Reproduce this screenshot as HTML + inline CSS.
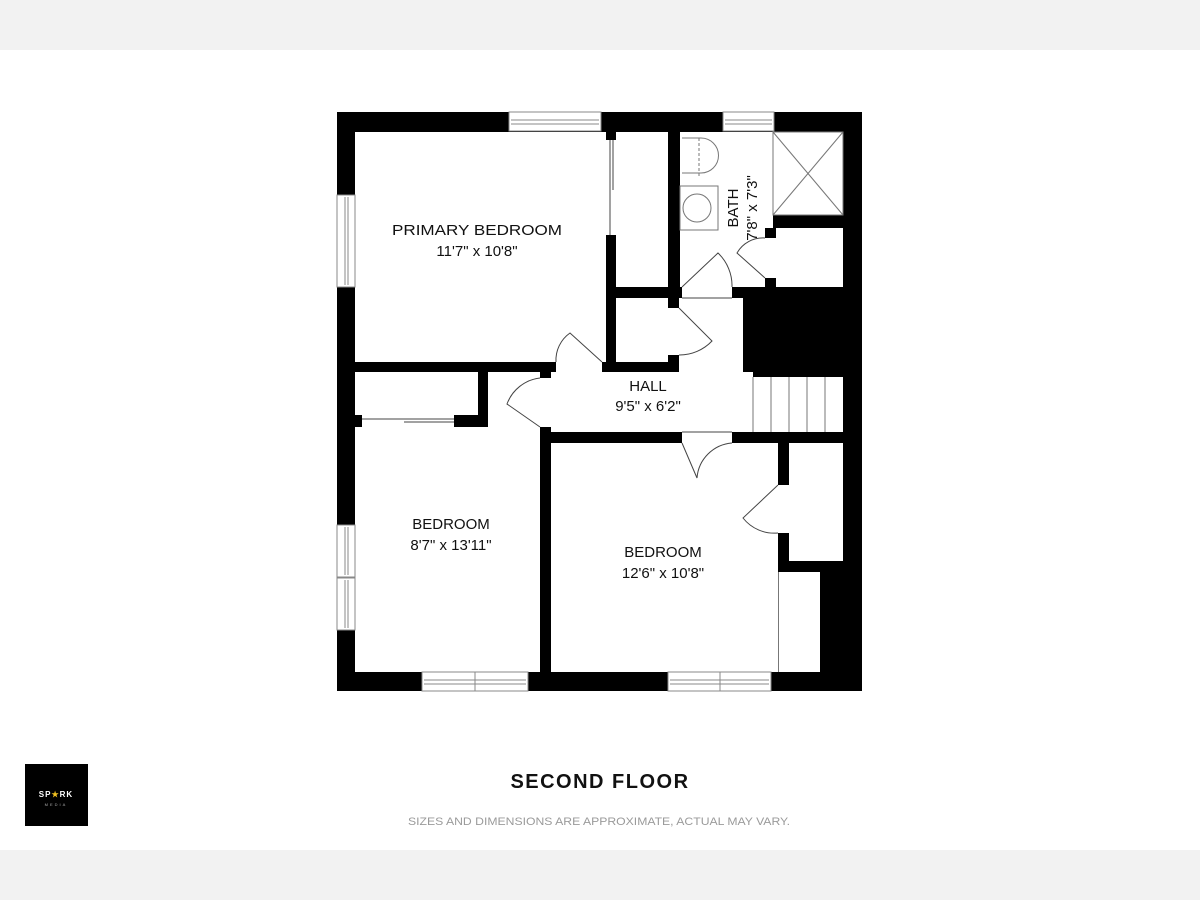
<!DOCTYPE html>
<html><head><meta charset="utf-8"><style>
html,body{margin:0;padding:0;width:1200px;height:900px;overflow:hidden;background:#fff}
</style></head><body>
<svg width="1200" height="900" viewBox="0 0 1200 900" xmlns="http://www.w3.org/2000/svg" font-family="Liberation Sans, sans-serif">
<rect x="0" y="0" width="1200" height="50" fill="#f2f2f2"/>
<rect x="0" y="850" width="1200" height="50" fill="#f2f2f2"/>
<rect x="337" y="112" width="525" height="579" fill="#000"/>
<g fill="#fff">
<rect x="355" y="132" width="251" height="230"/>
<rect x="606" y="140" width="10" height="95"/>
<rect x="616" y="132" width="52" height="155"/>
<rect x="680" y="132" width="93" height="96"/>
<rect x="680" y="132" width="85" height="155"/>
<rect x="682" y="287" width="50" height="11"/>
<rect x="773" y="132" width="70" height="83"/>
<rect x="776" y="228" width="67" height="59"/>
<rect x="765" y="238" width="11" height="40"/>
<rect x="616" y="298" width="52" height="64"/>
<rect x="668" y="308" width="11" height="47"/>
<rect x="679" y="298" width="64" height="79"/>
<rect x="551" y="372" width="202" height="60"/>
<rect x="753" y="377" width="90" height="55"/>
<rect x="556" y="362" width="46" height="10"/>
<rect x="540" y="378" width="11" height="49"/>
<rect x="355" y="427" width="185" height="245"/>
<rect x="355" y="372" width="123" height="43"/>
<rect x="362" y="415" width="92" height="12"/>
<rect x="488" y="372" width="52" height="55"/>
<rect x="551" y="443" width="227" height="229"/>
<rect x="682" y="432" width="50" height="11"/>
<rect x="789" y="443" width="54" height="118"/>
<rect x="778" y="485" width="11" height="48"/>
<rect x="778" y="572" width="42" height="100"/>
</g>
<g fill="#fff" stroke="#888" stroke-width="1">
<rect x="509" y="112" width="92" height="19"/><line x1="511" y1="120" x2="599" y2="120"/><line x1="511" y1="124" x2="599" y2="124"/>
<rect x="723" y="112" width="51" height="19"/><line x1="725" y1="120" x2="772" y2="120"/><line x1="725" y1="124" x2="772" y2="124"/>
<rect x="337" y="195" width="18" height="92"/><line x1="345" y1="197" x2="345" y2="285"/><line x1="348" y1="197" x2="348" y2="285"/>
<rect x="337" y="525" width="18" height="52"/><line x1="345" y1="527" x2="345" y2="575"/><line x1="348" y1="527" x2="348" y2="575"/>
<rect x="337" y="578" width="18" height="52"/><line x1="345" y1="580" x2="345" y2="628"/><line x1="348" y1="580" x2="348" y2="628"/>
<rect x="422" y="672" width="53" height="19"/><rect x="475" y="672" width="53" height="19"/>
<line x1="424" y1="680" x2="526" y2="680"/><line x1="424" y1="684" x2="526" y2="684"/>
<rect x="668" y="672" width="52" height="19"/><rect x="720" y="672" width="51" height="19"/>
<line x1="670" y1="680" x2="769" y2="680"/><line x1="670" y1="684" x2="769" y2="684"/>
</g>
<g fill="none" stroke="#444" stroke-width="1">
<line x1="610" y1="140" x2="610" y2="235"/><line x1="613" y1="140" x2="613" y2="190"/>
<line x1="362" y1="419" x2="454" y2="419"/><line x1="404" y1="422" x2="454" y2="422"/>
<path d="M602 362 L570 333 A33 33 0 0 0 556 362"/>
<path d="M540 427 L507 404 A40 40 0 0 1 540 378"/>
<path d="M682 287 L718 253 A45 45 0 0 1 732 287"/>
<path d="M679 308 L712 341 A45 45 0 0 1 679 355"/>
<path d="M765 278 L737 253 A30 30 0 0 1 765 238"/>
<path d="M682 443 L697 478 A38 38 0 0 1 732 443"/>
<path d="M778 485 L743 518 A40 40 0 0 0 778 533"/>
<line x1="682" y1="298" x2="732" y2="298"/>
<line x1="682" y1="432" x2="732" y2="432"/>
</g>
<g stroke="#777" stroke-width="1" fill="none">
<line x1="753" y1="377" x2="753" y2="432"/>
<line x1="771" y1="377" x2="771" y2="432"/><line x1="789" y1="377" x2="789" y2="432"/>
<line x1="807" y1="377" x2="807" y2="432"/><line x1="825" y1="377" x2="825" y2="432"/>
<line x1="778.5" y1="572" x2="778.5" y2="672"/>
<line x1="773" y1="132" x2="843" y2="215"/><line x1="843" y1="132" x2="773" y2="215"/>
<rect x="773" y="132" width="70" height="83"/>
<rect x="680" y="186" width="38" height="44"/>
<circle cx="697" cy="208" r="14"/>
<path d="M682 138 L701 138 A14 14 0 0 1 701 173 L682 173" />
<line x1="699" y1="138" x2="699" y2="178" stroke-dasharray="3,2"/>
</g>
<g font-size="15" fill="#111" text-anchor="middle">
<text x="477" y="235" textLength="170" lengthAdjust="spacingAndGlyphs">PRIMARY BEDROOM</text>
<text x="477" y="256">11'7" x 10'8"</text>
<text x="648" y="391">HALL</text>
<text x="648" y="411">9'5" x 6'2"</text>
<text x="451" y="529">BEDROOM</text>
<text x="451" y="550">8'7" x 13'11"</text>
<text x="663" y="557">BEDROOM</text>
<text x="663" y="578">12'6" x 10'8"</text>
<text transform="translate(738,208) rotate(-90)">BATH</text>
<text transform="translate(757,208) rotate(-90)">7'8" x 7'3"</text>
</g>
<text x="600" y="788" text-anchor="middle" font-size="20" font-weight="bold" fill="#111" letter-spacing="1.5">SECOND FLOOR</text>
<text x="599" y="825" text-anchor="middle" font-size="11" fill="#9a9a9a" textLength="382" lengthAdjust="spacingAndGlyphs">SIZES AND DIMENSIONS ARE APPROXIMATE, ACTUAL MAY VARY.</text>
<rect x="25" y="764" width="63" height="62" fill="#000"/>
<text x="56" y="797" text-anchor="middle" font-size="8" font-weight="bold" fill="#fff" letter-spacing="1">SP<tspan fill="#f0c020">★</tspan>RK</text>
<text x="56" y="806" text-anchor="middle" font-size="4" fill="#aaa" letter-spacing="2">MEDIA</text>
</svg>
</body></html>
